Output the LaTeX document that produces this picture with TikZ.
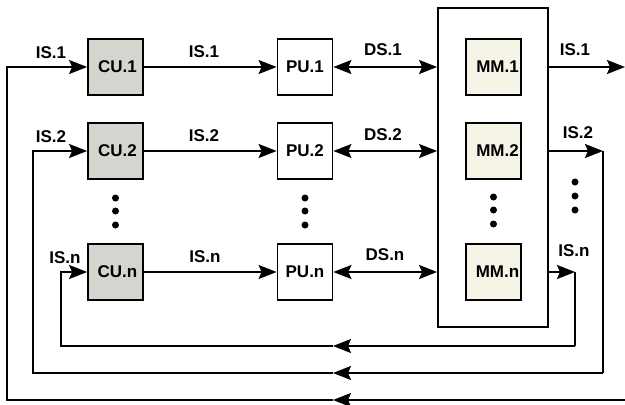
\documentclass[tikz,border=0pt]{standalone}
\usepackage{fontspec}
\setmainfont{Liberation Sans}
\usetikzlibrary{arrows.meta}
\definecolor{cugray}{RGB}{214,212,206}
\definecolor{mmcream}{RGB}{246,244,231}
\tikzset{
  arr/.style={-{Stealth[length=18pt,width=14pt,inset=3pt]}},
  rarr/.style={{Stealth[length=18pt,width=14pt,inset=3pt]}-{Stealth[length=18pt,width=14pt,inset=3pt]}}
}

\begin{document}
\begin{tikzpicture}[x=1pt,y=-1pt,line width=1.8pt,
    font=\bfseries\fontsize{17}{20}\selectfont,
    unit/.style={draw,minimum width=55pt,minimum height=56pt,inner sep=0pt},
    cu/.style={unit,fill=cugray},
    pu/.style={unit,fill=white},
    mm/.style={unit,fill=mmcream},
    lbl/.style={inner sep=0pt}]
    \useasboundingbox (0,0) rectangle (625,405);
    % memory module
    \node[draw,minimum width=110pt,minimum height=319pt] (mem) at (493,167.5) {};
    \node[mm] (mm1) at (493.5,67) {\hspace*{8pt}MM.1};
    \node[mm] (mm2) at (493.5,151) {\hspace*{8pt}MM.2};
    \node[mm] (mmn) at (493.5,272) {\hspace*{8pt}MM.n};
    % control and processing units
    \node[cu] (cu1) at (115.5,67) {\hspace*{4pt}CU.1};
    \node[cu] (cu2) at (115.5,151) {\hspace*{4pt}CU.2};
    \node[cu] (cun) at (115.5,272) {\hspace*{4pt}CU.n};
    \node[pu] (pu1) at (305,67) {PU.1};
    \node[pu] (pu2) at (305,151) {PU.2};
    \node[pu] (pun) at (305,272) {PU.n};
    % dots
    \foreach \y in {198,211,225} {
      \fill (115.5,\y) circle (3.5pt);
      \fill (305,\y) circle (3.5pt);
      \fill (493.5,\y-1) circle (3.5pt);
    }
    \foreach \y in {182,196,210}
      \fill (575,\y) circle (3.5pt);
    % instruction and data streams
    \draw[arr] (cu1) -- (pu1);
    \draw[arr] (cu2) -- (pu2);
    \draw[arr] (cun) -- (pun);
    \draw[rarr] (pu1) -- (pu1 -| mem.west);
    \draw[rarr] (pu2) -- (pu2 -| mem.west);
    \draw[rarr] (pun) -- (pun -| mem.west);
    % feedback loops
    \coordinate (r1) at (625,67);
    \coordinate (r2) at (603,151);
    \coordinate (rn) at (575,272);
    \coordinate (b1) at (625,400);
    \coordinate (b2) at (603,373);
    \coordinate (bn) at (575,346);
    \coordinate (m1) at (333,400);
    \coordinate (m2) at (333,373);
    \coordinate (mn) at (333,346);
    \coordinate (l1) at (7,400);
    \coordinate (l2) at (33,373);
    \coordinate (ln) at (61,346);
    \draw[arr] (mm1 -| mem.east) -- (r1);
    \draw[arr] (mm2 -| mem.east) -- (r2);
    \draw[arr] (mmn -| mem.east) -- (rn);
    \draw (r2) -- (b2);
    \draw (rn) -- (bn);
    \draw[arr] (b1) -- (m1);
    \draw[arr] (b2) -- (m2);
    \draw[arr] (bn) -- (mn);
    \draw[arr] (m1) -- (l1) -- (l1 |- cu1) -- (cu1.west);
    \draw[arr] (m2) -- (l2) -- (l2 |- cu2) -- (cu2.west);
    \draw[arr] (mn) -- (ln) -- (ln |- cun) -- (cun.west);
    % labels
    \node[lbl] (i1) at (51,53) {IS.1};
    \node[lbl] (i2) at (51,137) {IS.2};
    \node[lbl] (in) at (65,258) {IS.n};
    \node[lbl] (c1) at (204,52) {IS.1};
    \node[lbl] (c2) at (204,136) {IS.2};
    \node[lbl] (cn) at (205,257) {IS.n};
    \node[lbl] (d1) at (383,50) {DS.1};
    \node[lbl] (d2) at (383,135) {DS.2};
    \node[lbl] (dn) at (385,255) {DS.n};
    \node[lbl] (o1) at (575,50) {IS.1};
    \node[lbl] (o2) at (578,133) {IS.2};
    \node[lbl] (on) at (574,251) {IS.n};
\end{tikzpicture}
\end{document}
